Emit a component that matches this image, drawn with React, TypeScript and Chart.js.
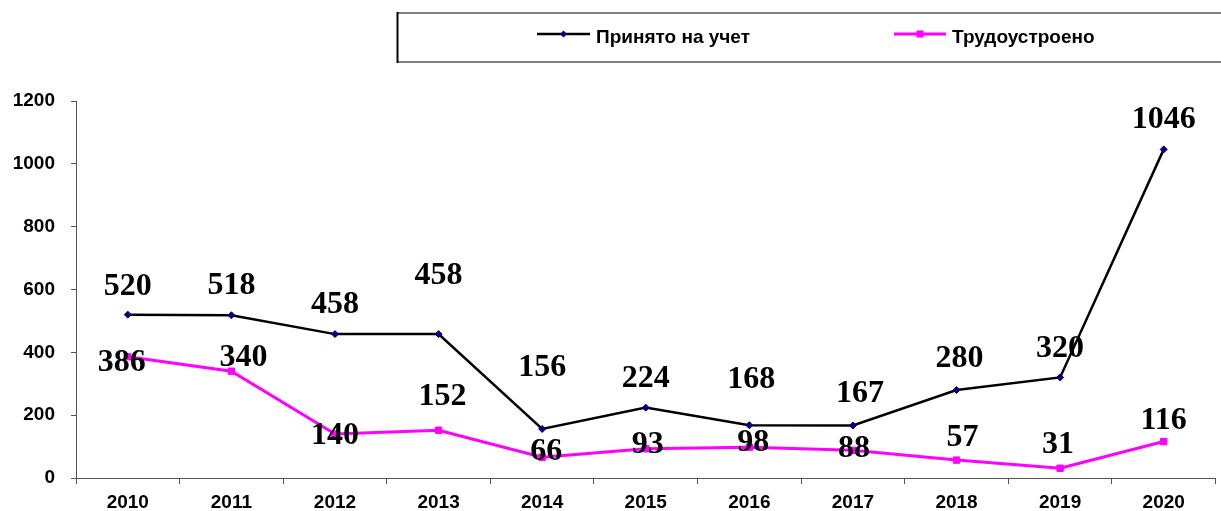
import React, { useEffect, useRef } from 'react';
import { Chart, registerables } from 'chart.js';

Chart.register(...registerables);

const years = ['2010', '2011', '2012', '2013', '2014', '2015', '2016', '2017', '2018', '2019', '2020'];
const registered = [520, 518, 458, 458, 156, 224, 168, 167, 280, 320, 1046];
const employed = [386, 340, 140, 152, 66, 93, 98, 88, 57, 31, 116];
const yTicks = [0, 200, 400, 600, 800, 1000, 1200];
const seriesNames = ['Принято на учет', 'Трудоустроено'];

// label placement (dx, dy of label centre relative to its point), as placed in the original
const labelOffsets: number[][][] = [
  [[0, -31], [0, -32], [0, -32], [0, -61], [0, -64], [0, -32], [2, -48], [7, -35], [3, -34], [0, -31], [0, -32]],
  [[-6, 3], [12, -16], [0, -1], [4, -36], [4, -8], [2, -7], [4, -7], [1, -4], [6, -25], [-2, -26], [0, -24]],
];

const SANS = "'Liberation Sans', Arial, sans-serif";
const SERIF = "'Liberation Serif', 'Times New Roman', serif";

const dataLabelPlugin = {
  id: 'dataLabels',
  afterDatasetsDraw(chart: any) {
    const ctx = chart.ctx;
    ctx.save();
    ctx.font = `bold 32px ${SERIF}`;
    ctx.fillStyle = '#000';
    ctx.textAlign = 'center';
    ctx.textBaseline = 'alphabetic';
    chart.data.datasets.forEach((ds: any, i: number) => {
      const meta = chart.getDatasetMeta(i);
      meta.data.forEach((pt: any, j: number) => {
        const [dx, dy] = labelOffsets[i][j];
        ctx.fillText(String(ds.data[j]), pt.x + dx, pt.y + dy + 11);
      });
    });
    ctx.restore();
  },
};

const legendBoxPlugin = {
  id: 'legendBox',
  afterDraw(chart: any) {
    const ctx = chart.ctx;
    ctx.save();
    // frame
    ctx.lineWidth = 2;
    ctx.strokeStyle = '#808080';
    ctx.beginPath();
    ctx.moveTo(397, 13);
    ctx.lineTo(1221, 13);
    ctx.moveTo(397, 62);
    ctx.lineTo(1221, 62);
    ctx.stroke();
    ctx.strokeStyle = '#000';
    ctx.beginPath();
    ctx.moveTo(397.5, 12);
    ctx.lineTo(397.5, 63);
    ctx.stroke();

    const items = [
      { x0: 537, x1: 590, tx: 596 },
      { x0: 894, x1: 946, tx: 952 },
    ];
    const y = 34;
    chart.data.datasets.forEach((ds: any, i: number) => {
      const it = items[i];
      ctx.strokeStyle = ds.borderColor;
      ctx.lineWidth = ds.borderWidth;
      ctx.beginPath();
      ctx.moveTo(it.x0, y);
      ctx.lineTo(it.x1, y);
      ctx.stroke();
      const cx = (it.x0 + it.x1) / 2;
      ctx.fillStyle = ds.pointBackgroundColor;
      if (ds.pointStyle === 'rectRot') {
        ctx.beginPath();
        ctx.moveTo(cx, y - 3.5);
        ctx.lineTo(cx + 3.5, y);
        ctx.lineTo(cx, y + 3.5);
        ctx.lineTo(cx - 3.5, y);
        ctx.closePath();
        ctx.fill();
      } else {
        ctx.fillRect(cx - 3.5, y - 3.5, 7, 7);
      }
      ctx.fillStyle = '#000';
      ctx.font = `bold 19px ${SANS}`;
      ctx.textAlign = 'left';
      ctx.textBaseline = 'alphabetic';
      ctx.fillText(ds.label, it.tx, 43);
    });
    ctx.restore();
  },
};

export default function App() {
  const ref = useRef<HTMLCanvasElement | null>(null);

  useEffect(() => {
    if (!ref.current) return;
    const chart = new Chart(ref.current, {
      type: 'line',
      data: {
        labels: years,
        datasets: [
          {
            label: seriesNames[0],
            data: registered,
            borderColor: '#000000',
            borderWidth: 2.5,
            pointStyle: 'rectRot',
            pointRadius: 3.5,
            pointBackgroundColor: '#000080',
            pointBorderColor: '#000080',
            pointBorderWidth: 1,
            tension: 0,
          },
          {
            label: seriesNames[1],
            data: employed,
            borderColor: '#FF00FF',
            borderWidth: 3,
            pointStyle: 'rect',
            pointRadius: 4.5,
            pointBackgroundColor: '#FF00FF',
            pointBorderColor: '#FF00FF',
            pointBorderWidth: 1,
            tension: 0,
          },
        ] as any,
      },
      options: {
        animation: false,
        responsive: false,
        maintainAspectRatio: false,
        layout: { padding: { top: 101, right: 5, left: 0, bottom: 0 } },
        plugins: {
          legend: { display: false },
          tooltip: { enabled: false },
          title: { display: false },
        },
        scales: {
          x: {
            type: 'category',
            offset: true,
            grid: {
              offset: true,
              drawOnChartArea: false,
              drawTicks: true,
              tickLength: 6,
              color: '#555',
            },
            border: { display: true, color: '#555', width: 1 },
            ticks: {
              color: '#000',
              font: { family: SANS, size: 19, weight: 'bold' },
              padding: 7,
              maxRotation: 0,
              autoSkip: false,
            },
            afterFit: (scale: any) => {
              scale.height = 33;
            },
          },
          y: {
            min: 0,
            max: 1200,
            afterBuildTicks: (scale: any) => {
              scale.ticks = yTicks.map((v) => ({ value: v }));
            },
            grid: {
              drawOnChartArea: false,
              drawTicks: true,
              tickLength: 5,
              color: '#555',
            },
            border: { display: true, color: '#555', width: 1 },
            ticks: {
              color: '#000',
              font: { family: SANS, size: 19, weight: 'bold' },
              padding: 16,
              callback: (v: any) => String(v),
            },
            afterFit: (scale: any) => {
              scale.width = 76;
            },
          },
        },
      } as any,
      plugins: [dataLabelPlugin, legendBoxPlugin],
    });
    return () => chart.destroy();
  }, []);

  return (
    <div style={{ position: 'absolute', left: 0, top: 0, width: 1221, height: 511, background: '#fff' }}>
      <canvas ref={ref} width={1221} height={511} style={{ width: 1221, height: 511 }} />
    </div>
  );
}
